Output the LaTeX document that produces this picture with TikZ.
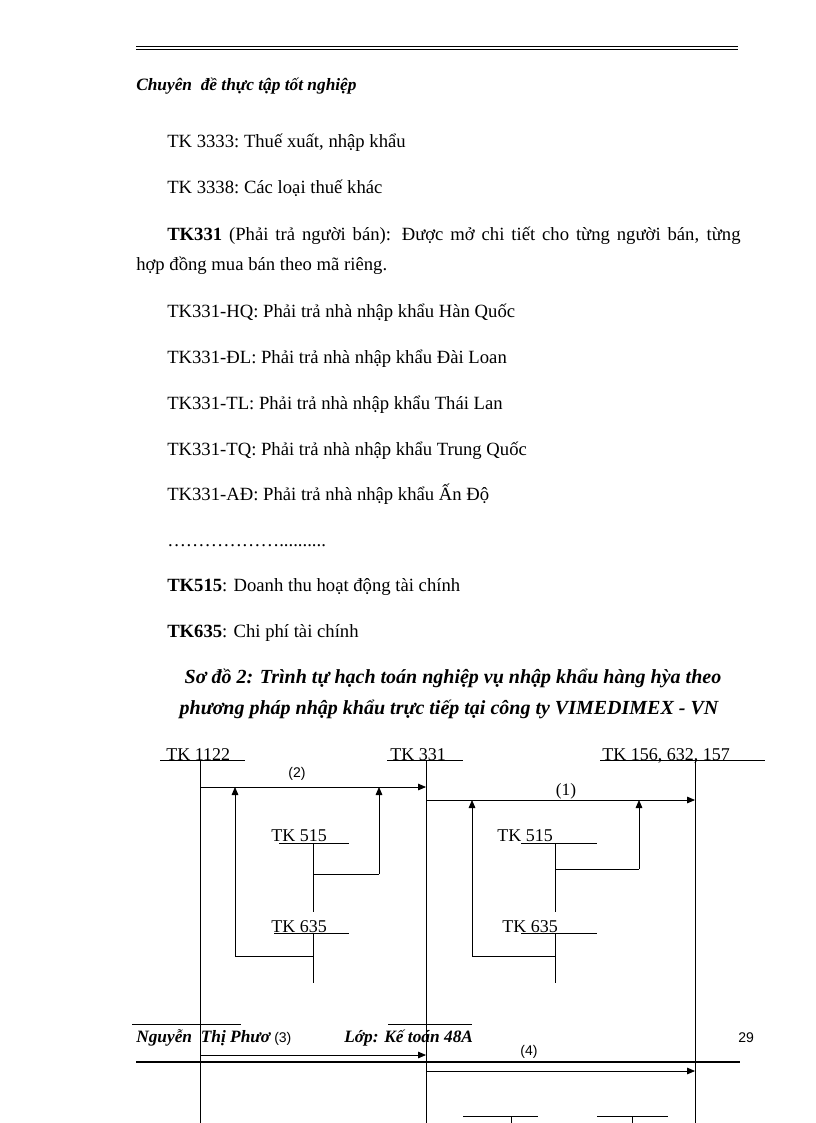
\documentclass[tikz,border=0pt]{standalone}
\usepackage{fontspec}
\setmainfont{Liberation Serif}
\setsansfont{Liberation Sans}
\usetikzlibrary{arrows.meta, positioning, calc}

\tikzset{
  body/.style={anchor=base west, inner sep=0pt, font=\fontsize{14}{16}\selectfont},
  headline/.style={anchor=base, inner sep=0pt, font=\bfseries\itshape\fontsize{15}{17}\selectfont},
  foot/.style={anchor=base west, inner sep=0pt, font=\bfseries\itshape\fontsize{13}{15}\selectfont},
  acc/.style={anchor=base west, inner sep=0pt, font=\fontsize{13.5}{15}\selectfont},
  stepno/.style={inner sep=0pt, font=\sffamily\fontsize{10.5}{12}\selectfont},
  ln/.style={line width=0.6pt},
  arr/.style={ln, -{Triangle[length=6pt,width=5pt]}},
}

\begin{document}
\begin{tikzpicture}[x=0.75pt, y=-0.75pt]
  \useasboundingbox (0,0) rectangle (816,1123);

  % page header
  \draw[ln] (136,46.5) -- (738,46.5);
  \draw[ln] (136,49.5) -- (738,49.5);
  \node[foot] (hdr) at (136,91) {Chuyên\ \ đề thực tập tốt nghiệp};

  % text
  \node[body] (l1) at (167,148) {TK 3333:\ Thuế xuất, nhập khẩu};
  \node[body] (l2) at (167,194) {TK 3338:\ Các loại thuế khác};
  \node[body] (l3) at (167,240) {\makebox[430pt][s]{\textbf{TK331} (Phải trả người bán): Được mở chi tiết cho từng người bán, từng}};
  \node[body] (l4) at (136,270) {hợp đồng mua bán theo mã riêng.};
  \node[body] (hq) at (167,317) {TK331-HQ: Phải trả nhà nhập khẩu Hàn Quốc};
  \node[body] (dl) at (167,363) {TK331-ĐL: Phải trả nhà nhập khẩu Đài Loan};
  \node[body] (tl) at (167,409) {TK331-TL: Phải trả nhà nhập khẩu Thái Lan};
  \node[body] (tq) at (167,455) {TK331-TQ: Phải trả nhà nhập khẩu Trung Quốc};
  \node[body] (ad) at (167,500) {TK331-AĐ: Phải trả nhà nhập khẩu Ấn Độ};
  \node[body] (dots) at (167,546) {………………..........};
  \node[body] (k515) at (167,591) {\textbf{TK515}: Doanh thu hoạt động tài chính};
  \node[body] (k635) at (167,637) {\textbf{TK635}: Chi phí tài chính};

  % title
  \node[headline] (t1) at (453,683) {Sơ đồ 2: Trình tự hạch toán nghiệp vụ nhập khẩu hàng hỳa theo};
  \node[headline] (t2) at (449,714) {phương pháp nhập khẩu trực tiếp tại công ty VIMEDIMEX - VN};

  % accounts
  \node[acc] (a1122) at (166,760) {TK 1122};
  \node[acc] (a331) at (390,760) {TK 331};
  \node[acc] (a156) at (602,760) {TK 156, 632, 157};
  \node[acc] (b515) at (271,841) {TK 515};
  \node[acc] (b635) at (271,932) {TK 635};
  \node[acc] (c515) at (497,841) {TK 515};
  \node[acc] (c635) at (502,932) {TK 635};

  \coordinate (v1122) at (200,760);
  \coordinate (v331) at (426,760);
  \coordinate (v156) at (695,760);
  \coordinate (s515) at (313,843);
  \coordinate (s635) at (313,933);
  \coordinate (r515) at (555,843);
  \coordinate (r635) at (555,933);

  % T-account lines
  \draw[ln] (160,760) -- (245,760);
  \draw[ln] (387,760) -- (463,760);
  \draw[ln] (600,760) -- (765,760);
  \draw[ln] (279,843) -- (349,843);
  \draw[ln] (274,933) -- (349,933);
  \draw[ln] (521,843) -- (597,843);
  \draw[ln] (521,933) -- (597,933);
  \draw[ln] (v1122) -- (v1122 |- 0,1123);
  \draw[ln] (v331) -- (v331 |- 0,1123);
  \draw[ln] (v156) -- (v156 |- 0,1123);
  \draw[ln] (s515) -- (313,912);
  \draw[ln] (s635) -- (313,983);
  \draw[ln] (r515) -- (555,912);
  \draw[ln] (r635) -- (555,983);

  % (2)
  \draw[arr] (v1122 |- 0,787) -- (v331 |- 0,787);
  \node[stepno] (n2) at (297,774) {(2)};
  \draw[ln] (313,874) -- (379,874);
  \draw[arr] (379,874) -- (379,787);
  \draw[ln] (313,956) -- (235,956);
  \draw[arr] (235,956) -- (235,787);

  % (1)
  \draw[arr] (v331 |- 0,800) -- (v156 |- 0,800);
  \node[inner sep=0pt, font=\fontsize{13}{15}\selectfont] (n1) at (566,791) {(1)};
  \draw[ln] (555,869) -- (639,869);
  \draw[arr] (639,869) -- (639,800);
  \draw[ln] (555,956) -- (472,956);
  \draw[arr] (472,956) -- (472,800);

  % page footer
  \draw[ln] (132,1024) -- (241,1024);
  \draw[ln] (388,1024) -- (472,1024);
  \node[foot] (ft1) at (136,1042) {Nguyễn\ \ Thị Phươ};
  \node[stepno, anchor=base west] (n3) at (274,1042) {(3)};
  \node[foot] (ft2) at (344,1042) {Lớp: Kế toán 48A};
  \node[stepno, anchor=base west] (pg) at (738,1042) {29};
  \draw[arr] (v1122 |- 0,1055) -- (v331 |- 0,1055);
  \draw[line width=1.6pt] (136,1062) -- (740,1062);
  \node[stepno] (n4) at (529,1052) {(4)};
  \draw[arr] (v331 |- 0,1071) -- (v156 |- 0,1071);
  \draw[ln] (463,1116) -- (538,1116);
  \draw[ln] (511,1116) -- (511,1123);
  \draw[ln] (597,1116) -- (668,1116);
  \draw[ln] (632,1116) -- (632,1123);
\end{tikzpicture}
\end{document}
